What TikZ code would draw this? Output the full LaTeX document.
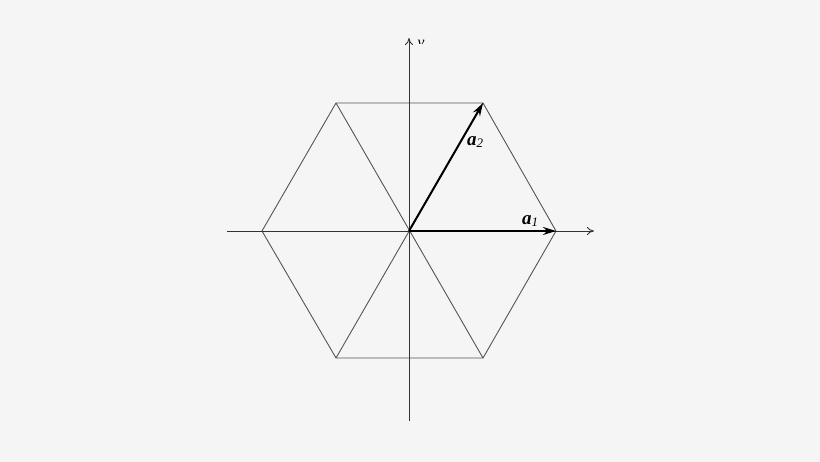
\documentclass[tikz,border=0pt]{standalone}
\usepackage{fontspec}
\setmainfont{Liberation Serif}
\usetikzlibrary{arrows.meta}
\definecolor{bg}{HTML}{F5F5F5}
\definecolor{ln}{HTML}{555555}
\begin{document}
\begin{tikzpicture}[x=1pt,y=-1pt,
  hexline/.style={draw=ln,line width=0.9pt},
  axisline/.style={draw=black!80,line width=0.9pt,-{To[length=7pt,width=8pt]}},
  vec/.style={draw=black,line width=2pt,-{Stealth[length=13pt,width=8pt]}},
  lab/.style={inner sep=0pt,font=\fontsize{19}{19}\selectfont}]
\fill[bg] (0,0) rectangle (820,462);
\useasboundingbox (0,0) rectangle (820,462);
\coordinate (O) at (409,231);
\coordinate (v1) at (556,231);
\coordinate (v2) at (483,103);
\coordinate (v3) at (336,103);
\coordinate (v4) at (262,231);
\coordinate (v5) at (336,358);
\coordinate (v6) at (483,358);
\coordinate (xl) at (227,231);
\coordinate (xr) at (594,231);
\coordinate (yb) at (409,421);
\coordinate (yt) at (409,38);
\draw[hexline] (v1) -- (v2) -- (v3) -- (v4) -- (v5) -- (v6) -- cycle;
\draw[hexline] (v2) -- (v5) (v3) -- (v6);
\draw[axisline] (xl) -- (xr);
\draw[axisline] (yb) -- (yt);
\draw[vec] (O) -- (v1);
\draw[vec] (O) -- (v2);
\node[lab] (a1) at (530,221) {\textbf{\textit{a}}\textit{\fontsize{13}{13}\selectfont\raisebox{-2.5pt}{1}}};
\node[lab] (a2) at (475,142) {\textbf{\textit{a}}\textit{\fontsize{13}{13}\selectfont\raisebox{-2.5pt}{2}}};
\begin{scope}
\clip (400,30) rectangle (440,44);
\node[lab,font=\fontsize{16}{16}\selectfont] (ylab) at (421,46) {\textit{y}};
\end{scope}
\end{tikzpicture}
\end{document}
